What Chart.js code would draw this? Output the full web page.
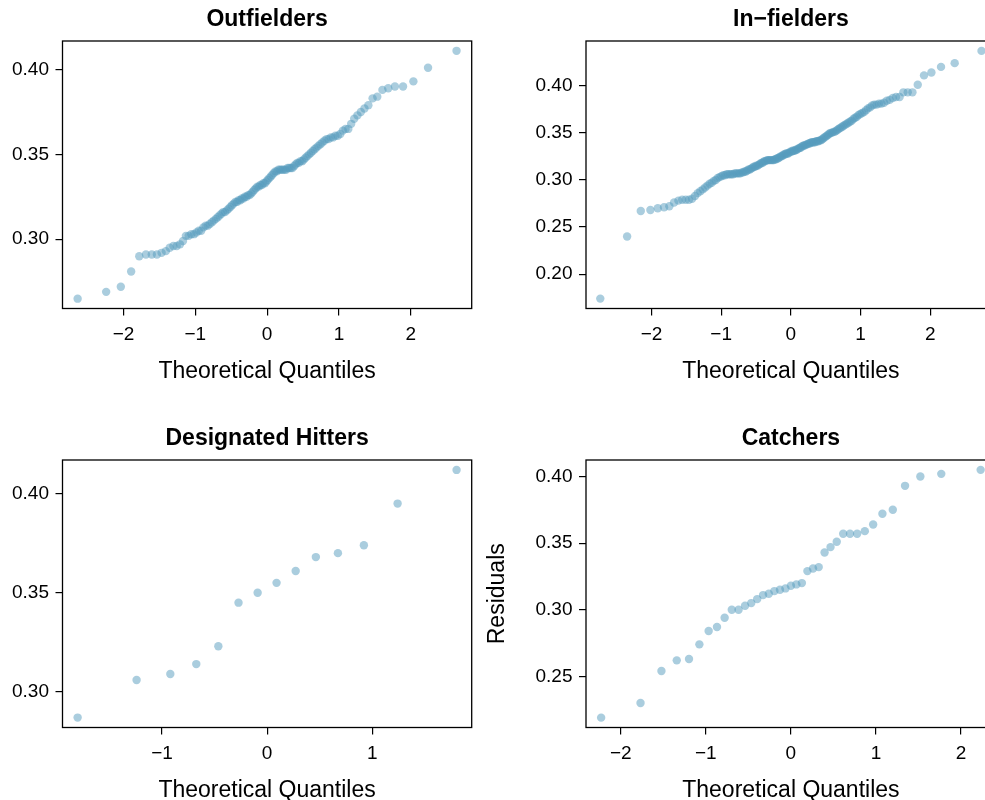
<!DOCTYPE html>
<html>
<head>
<meta charset="utf-8">
<title>Normal probability plots of batting averages</title>
<script src="https://cdn.jsdelivr.net/npm/chart.js@4.4.1/dist/chart.umd.min.js"></script>
<style>
  html, body { margin: 0; padding: 0; background: #fff; width: 985px; height: 800px; overflow: hidden; }
  canvas { position: absolute; }
</style>
</head>
<body>
<canvas id="qqOutfield" width="484" height="385" style="left:0;top:0"></canvas>
<canvas id="qqInfield" width="516" height="385" style="left:484px;top:0"></canvas>
<canvas id="qqDH" width="484" height="385" style="left:0;top:419px"></canvas>
<canvas id="qqCatcher" width="516" height="385" style="left:484px;top:419px"></canvas>
<script>
const outfieldQ = [
  -2.638, -2.241, -2.037, -1.893, -1.780, -1.687, -1.606, -1.534, -1.469, -1.410,
  -1.356, -1.305, -1.258, -1.213, -1.171, -1.131, -1.092, -1.055, -1.019, -0.984,
  -0.951, -0.918, -0.887, -0.856, -0.827, -0.798, -0.769, -0.742, -0.714, -0.688,
  -0.662, -0.636, -0.611, -0.586, -0.561, -0.536, -0.512, -0.489, -0.465, -0.442,
  -0.419, -0.396, -0.374, -0.352, -0.330, -0.308, -0.286, -0.264, -0.243, -0.221,
  -0.200, -0.179, -0.157, -0.136, -0.115, -0.094, -0.073, -0.052, -0.031, -0.010,
  0.010, 0.031, 0.052, 0.073, 0.094, 0.115, 0.136, 0.157, 0.179, 0.200,
  0.221, 0.243, 0.264, 0.286, 0.308, 0.330, 0.352, 0.374, 0.396, 0.419,
  0.442, 0.465, 0.489, 0.512, 0.536, 0.561, 0.586, 0.611, 0.636, 0.662,
  0.688, 0.714, 0.742, 0.769, 0.798, 0.827, 0.856, 0.887, 0.918, 0.951,
  0.984, 1.019, 1.055, 1.092, 1.131, 1.171, 1.213, 1.258, 1.305, 1.356,
  1.410, 1.469, 1.534, 1.606, 1.687, 1.780, 1.893, 2.037, 2.241, 2.638
];
const outfieldAvg = [
  0.265, 0.269, 0.272, 0.281, 0.290, 0.291, 0.291, 0.291, 0.292, 0.293,
  0.295, 0.296, 0.296, 0.297, 0.299, 0.302, 0.302, 0.303, 0.303, 0.304,
  0.305, 0.305, 0.307, 0.308, 0.308, 0.309, 0.310, 0.311, 0.312, 0.313,
  0.314, 0.315, 0.316, 0.316, 0.317, 0.318, 0.319, 0.320, 0.321, 0.322,
  0.322, 0.323, 0.323, 0.324, 0.324, 0.325, 0.325, 0.326, 0.326, 0.327,
  0.328, 0.329, 0.330, 0.331, 0.331, 0.332, 0.332, 0.333, 0.333, 0.334,
  0.335, 0.336, 0.337, 0.338, 0.339, 0.340, 0.340, 0.341, 0.341, 0.341,
  0.341, 0.341, 0.341, 0.342, 0.342, 0.342, 0.342, 0.343, 0.344, 0.345,
  0.345, 0.346, 0.346, 0.347, 0.348, 0.349, 0.350, 0.351, 0.352, 0.353,
  0.354, 0.355, 0.356, 0.357, 0.358, 0.359, 0.359, 0.360, 0.360, 0.361,
  0.361, 0.362, 0.364, 0.365, 0.365, 0.368, 0.371, 0.373, 0.375, 0.377,
  0.379, 0.383, 0.384, 0.388, 0.389, 0.390, 0.390, 0.393, 0.401, 0.411
];

const infieldQ = [
  -2.735, -2.350, -2.154, -2.016, -1.910, -1.820, -1.744, -1.676, -1.614, -1.560,
  -1.509, -1.462, -1.418, -1.376, -1.337, -1.300, -1.264, -1.230, -1.197, -1.166,
  -1.136, -1.106, -1.078, -1.050, -1.023, -0.997, -0.971, -0.947, -0.922, -0.899,
  -0.875, -0.853, -0.830, -0.808, -0.787, -0.766, -0.745, -0.725, -0.704, -0.685,
  -0.665, -0.646, -0.626, -0.607, -0.589, -0.570, -0.552, -0.534, -0.516, -0.498,
  -0.480, -0.463, -0.445, -0.428, -0.411, -0.394, -0.377, -0.360, -0.343, -0.327,
  -0.310, -0.294, -0.277, -0.261, -0.245, -0.229, -0.213, -0.197, -0.181, -0.165,
  -0.149, -0.134, -0.118, -0.102, -0.086, -0.071, -0.055, -0.039, -0.024, -0.008,
  0.008, 0.024, 0.039, 0.055, 0.071, 0.086, 0.102, 0.118, 0.134, 0.149,
  0.165, 0.181, 0.197, 0.213, 0.229, 0.245, 0.261, 0.277, 0.294, 0.310,
  0.327, 0.343, 0.360, 0.377, 0.394, 0.411, 0.428, 0.445, 0.463, 0.480,
  0.498, 0.516, 0.534, 0.552, 0.570, 0.589, 0.607, 0.626, 0.646, 0.665,
  0.685, 0.704, 0.725, 0.745, 0.766, 0.787, 0.808, 0.830, 0.853, 0.875,
  0.899, 0.922, 0.947, 0.971, 0.997, 1.023, 1.050, 1.078, 1.106, 1.136,
  1.166, 1.197, 1.230, 1.264, 1.300, 1.337, 1.376, 1.418, 1.462, 1.509,
  1.560, 1.614, 1.676, 1.744, 1.820, 1.910, 2.016, 2.154, 2.350, 2.735
];
const infieldAvg = [
  0.174, 0.240, 0.267, 0.268, 0.270, 0.271, 0.272, 0.276, 0.278, 0.279,
  0.279, 0.279, 0.280, 0.283, 0.286, 0.288, 0.290, 0.292, 0.294, 0.296,
  0.297, 0.299, 0.300, 0.302, 0.303, 0.304, 0.305, 0.305, 0.306, 0.306,
  0.306, 0.306, 0.306, 0.307, 0.307, 0.307, 0.307, 0.307, 0.308, 0.308,
  0.309, 0.309, 0.310, 0.311, 0.311, 0.312, 0.313, 0.314, 0.314, 0.315,
  0.315, 0.316, 0.317, 0.318, 0.318, 0.319, 0.320, 0.320, 0.321, 0.321,
  0.321, 0.321, 0.321, 0.321, 0.321, 0.322, 0.322, 0.323, 0.323, 0.324,
  0.325, 0.325, 0.326, 0.327, 0.327, 0.328, 0.328, 0.328, 0.329, 0.330,
  0.330, 0.331, 0.331, 0.331, 0.332, 0.332, 0.333, 0.334, 0.334, 0.335,
  0.336, 0.336, 0.337, 0.337, 0.338, 0.338, 0.339, 0.339, 0.340, 0.340,
  0.340, 0.340, 0.341, 0.341, 0.341, 0.342, 0.342, 0.343, 0.344, 0.345,
  0.346, 0.347, 0.348, 0.349, 0.350, 0.350, 0.351, 0.351, 0.352, 0.353,
  0.354, 0.355, 0.356, 0.357, 0.358, 0.359, 0.360, 0.361, 0.362, 0.363,
  0.365, 0.366, 0.367, 0.369, 0.370, 0.371, 0.372, 0.374, 0.376, 0.377,
  0.379, 0.380, 0.380, 0.381, 0.381, 0.382, 0.384, 0.385, 0.387, 0.388,
  0.388, 0.393, 0.393, 0.393, 0.401, 0.411, 0.414, 0.420, 0.424, 0.437
];

const dhQ = [-1.803, -1.242, -0.921, -0.674, -0.464, -0.272, -0.090, 0.090, 0.272, 0.464, 0.674, 0.921, 1.242, 1.803];
const dhAvg = [0.287, 0.306, 0.309, 0.314, 0.323, 0.345, 0.350, 0.355, 0.361, 0.368, 0.370, 0.374, 0.395, 0.412];

const catcherQ = [
  -2.231, -1.768, -1.522, -1.342, -1.198, -1.076, -0.967, -0.869, -0.779, -0.695,
  -0.615, -0.539, -0.466, -0.396, -0.327, -0.260, -0.194, -0.129, -0.064, 0.000,
  0.064, 0.129, 0.194, 0.260, 0.327, 0.396, 0.466, 0.539, 0.615, 0.695,
  0.779, 0.869, 0.967, 1.076, 1.198, 1.342, 1.522, 1.768, 2.231
];
const catcherAvg = [
  0.219, 0.230, 0.254, 0.262, 0.263, 0.274, 0.284, 0.287, 0.294, 0.300,
  0.300, 0.303, 0.305, 0.308, 0.311, 0.312, 0.314, 0.315, 0.316, 0.318,
  0.319, 0.320, 0.329, 0.331, 0.332, 0.343, 0.347, 0.351, 0.357, 0.357,
  0.357, 0.359, 0.364, 0.372, 0.375, 0.393, 0.400, 0.402, 0.405
];

// axis ticks
const xTicksWide = [-2, -1, 0, 1, 2];
const xTicksDH = [-1, 0, 1];
const yTicksOutfield = [0.30, 0.35, 0.40];
const yTicksInfield = [0.20, 0.25, 0.30, 0.35, 0.40];
const yTicksDH = [0.30, 0.35, 0.40];
const yTicksCatcher = [0.25, 0.30, 0.35, 0.40];

const FONT = "'Liberation Sans', Arial, Helvetica, sans-serif";
const dotColor = 'rgba(86, 155, 189, 0.5)';

// box around the plotting region, like R's box()
const framePlugin = {
  id: 'frame',
  afterDatasetsDraw(chart) {
    const { ctx, chartArea: a } = chart;
    ctx.save();
    ctx.strokeStyle = '#000';
    ctx.lineWidth = 1.3;
    ctx.strokeRect(a.left, a.top, a.right - a.left, a.bottom - a.top);
    ctx.restore();
  }
};

const minus = v => (v < 0 ? '\u2212' + Math.abs(v) : String(v));

function renderQQ(canvasId, p) {
  const ctx = document.getElementById(canvasId);
  new Chart(ctx, {
    type: 'scatter',
    data: {
      datasets: [{
        data: p.q.map((q, i) => ({ x: q, y: p.avg[i] })),
        backgroundColor: dotColor,
        borderWidth: 0,
        pointRadius: 4.2,
        pointHoverRadius: 4.2
      }]
    },
    options: {
      responsive: false,
      animation: false,
      devicePixelRatio: 1,
      layout: { padding: { left: 0, top: 0, bottom: 0, right: p.padRight } },
      plugins: {
        legend: { display: false },
        tooltip: { enabled: false },
        title: {
          display: true,
          text: p.title,
          fullSize: false,
          color: '#000',
          font: { family: FONT, size: 23, weight: 'bold', lineHeight: 1.2 },
          padding: { top: 5.8, bottom: 7.6 }
        }
      },
      scales: {
        x: {
          type: 'linear',
          min: -p.xLim,
          max: p.xLim,
          afterBuildTicks: s => { s.ticks = p.xTicks.map(v => ({ value: v })); },
          afterFit: s => { s.height = 76.5; },
          border: { display: false },
          grid: { drawOnChartArea: false, drawTicks: true, tickLength: 7, color: '#000', lineWidth: 1.2 },
          ticks: { color: '#000', font: { family: FONT, size: 19 }, padding: 7.5, maxRotation: 0, callback: v => minus(v) },
          title: { display: true, text: 'Theoretical Quantiles', color: '#000', font: { family: FONT, size: 23 }, padding: 0 }
        },
        y: {
          type: 'linear',
          min: p.yMin,
          max: p.yMax,
          afterBuildTicks: s => { s.ticks = p.yTicks.map(v => ({ value: v })); },
          afterFit: s => { s.width = p.axisW; },
          border: { display: false },
          grid: { drawOnChartArea: false, drawTicks: true, tickLength: 7, color: '#000', lineWidth: 1.2 },
          ticks: { color: '#000', font: { family: FONT, size: 19 }, padding: 6.5, callback: v => v.toFixed(2) },
          title: { display: !!p.yTitle, text: p.yTitle || '', color: '#000', font: { family: FONT, size: 23 }, padding: 0 }
        }
      }
    },
    plugins: [framePlugin]
  });
}

renderQQ('qqOutfield', {
  title: 'Outfielders', q: outfieldQ, avg: outfieldAvg,
  xLim: 2.849, xTicks: xTicksWide, yMin: 0.2592, yMax: 0.4168, yTicks: yTicksOutfield,
  axisW: 62.5, padRight: 12.3
});
renderQQ('qqInfield', {
  title: 'In\u2212fielders', q: infieldQ, avg: infieldAvg,
  xLim: 2.94, xTicks: xTicksWide, yMin: 0.1635, yMax: 0.4475, yTicks: yTicksInfield,
  axisW: 102, padRight: 4
});
renderQQ('qqDH', {
  title: 'Designated Hitters', q: dhQ, avg: dhAvg,
  xLim: 1.947, xTicks: xTicksDH, yMin: 0.282, yMax: 0.417, yTicks: yTicksDH,
  axisW: 62.5, padRight: 12.3
});
renderQQ('qqCatcher', {
  title: 'Catchers', q: catcherQ, avg: catcherAvg,
  xLim: 2.409, xTicks: xTicksWide, yMin: 0.2116, yMax: 0.4124, yTicks: yTicksCatcher,
  axisW: 102, padRight: 4, yTitle: 'Residuals'
});
</script>
</body>
</html>
